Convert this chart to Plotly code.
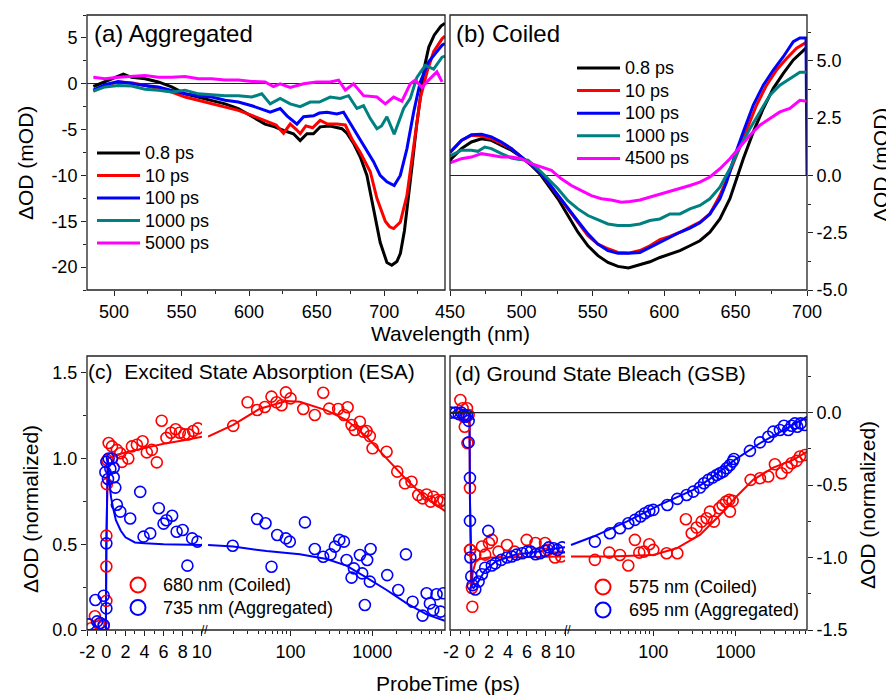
import plotly.graph_objects as go

W0, H0 = 894, 695      # browser window
OFF = 8                # default page body margin
W, H = W0 - OFF, H0 - OFF
FONT = "Arial, Liberation Sans, sans-serif"

# ---------------- (a) Aggregated: transient spectra ----------------
a_labels = ["0.8 ps", "10 ps", "100 ps", "1000 ps", "5000 ps"]
a_colors = ["#000000", "#ff0000", "#0000ff", "#008080", "#ff00ff"]

a_wl_black = [484.7, 489.6, 493.3, 500.7, 506.9, 513, 523, 532.8, 542.7, 552.6, 562.5, 572.3, 582.2, 592, 602,
              611.8, 619, 625.5, 632.8, 637.8, 642.8, 647.6, 652.6, 660, 668.7, 672.4, 677.3, 682.3, 687.2, 692.1,
              697, 702, 705.6, 709.4, 712, 715, 718, 721, 724, 727, 730, 733, 737, 742, 745]
a_black = [-0.3, 0.0, 0.2, 0.7, 1.05, 0.7, 0.55, 0.2, -0.35, -1.1, -1.45, -1.8, -2.2, -2.7, -3.6,
           -4.4, -4.7, -5.1, -5.45, -6.2, -5.45, -5.45, -4.7, -4.6, -4.9, -5.4, -6.5, -8.0, -10.0, -13.5,
           -17.3, -19.5, -19.8, -19.4, -18.5, -16.0, -12.5, -8.5, -4.5, -1.0, 2.0, 4.0, 5.3, 6.3, 6.6]

a_wl_red = [484.7, 493.3, 503.2, 513, 523, 532.8, 542.7, 552.6, 562.5, 572.3, 582.2, 592, 602, 611.8, 615.6,
            620, 625.5, 630.4, 635, 637.8, 642, 647, 652.6, 658, 665, 671.2, 676, 682.3, 689.7, 694.6,
            700.8, 704, 707, 711.9, 716.8, 721.8, 726.7, 731.7, 736.6, 742.8, 745]
a_red = [-0.8, -0.2, 0.2, 0.1, -0.2, -0.55, -0.9, -1.45, -1.8, -2.2, -2.5, -2.9, -3.45, -4.0, -4.2,
         -4.5, -5.4, -4.4, -5.0, -5.45, -4.6, -4.8, -4.0, -4.4, -4.4, -4.5, -6.0, -7.5, -9.6, -12.5,
         -15.0, -15.6, -15.8, -15.1, -12.2, -7.1, -1.6, 1.3, 3.5, 4.9, 5.2]

a_wl_blue = [484.7, 493.3, 503, 513, 523, 532.8, 542.7, 552.6, 562.5, 572.3, 582.2, 592, 602, 611.8, 615.6,
             623, 628, 635.4, 640.3, 647.7, 652, 657.6, 665, 669.9, 677.3, 684.7, 692.1, 697, 702, 707.4,
             711.9, 716.8, 721.8, 726.7, 732.9, 739, 742.8, 745]
a_blue = [-0.7, -0.1, 0.25, 0.0, -0.2, -0.35, -0.7, -1.1, -1.3, -1.45, -1.8, -2.0, -2.4, -2.9, -3.1,
          -2.7, -3.5, -4.4, -3.6, -3.5, -3.2, -3.1, -3.3, -3.1, -4.9, -6.7, -8.5, -10.0, -10.7, -11.1,
          -10.0, -7.1, -3.1, 0.2, 2.4, 3.5, 4.2, 4.4]

a_wl_teal = [484.7, 493.3, 503.2, 513, 523, 532.8, 542.7, 552.6, 562.5, 572.3, 582.2, 592, 602, 609.4, 615.6,
             623, 630.4, 637.8, 645.2, 652, 660, 667.5, 673.6, 679.8, 684.7, 689.7, 694.6, 698, 702, 707.4,
             714.4, 719.3, 724.2, 730.4, 736.6, 742.8, 745]
a_teal = [-0.8, -0.35, -0.2, -0.25, -0.6, -0.7, -0.9, -0.7, -1.1, -1.2, -1.3, -1.3, -1.45, -1.1, -2.2,
          -1.6, -2.2, -2.5, -2.0, -2.0, -1.45, -1.6, -1.3, -2.7, -2.4, -3.8, -4.9, -4.6, -3.6, -5.5,
          -2.7, -1.6, 0.7, 2.0, 1.6, 2.9, 3.0]

a_wl_mag = [484.7, 493.3, 503.2, 513, 523, 532.8, 542.7, 552.6, 562.5, 572.3, 582.2, 592, 602, 611.8, 618,
            623, 630.4, 640.3, 650, 660, 666.2, 671.2, 677.3, 684.7, 694.6, 700.8, 707, 713.1, 719.3, 723,
            727.9, 732.9, 739, 742.8]
a_mag = [0.7, 0.55, 0.7, 0.8, 0.9, 0.7, 0.7, 0.8, 0.55, 0.55, 0.4, 0.4, 0.25, 0.2, -0.3,
         0.0, -0.4, 0.0, 0.2, 0.2, 0.4, -0.7, 0.0, -1.3, -1.45, -2.2, -1.45, -1.9, 0.0, 0.4,
         -0.4, 0.4, 1.3, 0.2]

# ---------------- (b) Coiled: transient spectra ----------------
b_labels = ["0.8 ps", "10 ps", "100 ps", "1000 ps", "4500 ps"]
b_colors = ["#000000", "#ff0000", "#0000ff", "#008080", "#ff00ff"]

b_wl_black = [450, 451, 458, 465, 472, 479, 486, 493, 500, 507, 513, 518.6, 525.6, 532.6, 539.6, 546.6, 553.6,
              560.6, 567.6, 575, 583, 590, 597, 604, 611, 618, 625, 632, 639, 646, 650.7, 655.4, 662.4,
              669.4, 676.4, 683.4, 690.4, 698.5, 700]
b_black = [0.6, 0.73, 1.17, 1.46, 1.6, 1.53, 1.31, 1.1, 0.8, 0.44, 0.07, -0.44, -1.02, -1.75, -2.48, -3.07, -3.5,
           -3.8, -3.97, -4.04, -3.9, -3.77, -3.58, -3.43, -3.28, -3.07, -2.85, -2.48, -1.9, -1.02, -0.15, 0.73, 1.9,
           2.92, 3.8, 4.45, 5.04, 5.55, 5.6]

b_wl_red = [450, 458, 465, 472, 479, 486, 493, 500, 507, 513, 518.6, 525.6, 532.6, 539.6, 546.6, 553.6, 560.6,
            567.6, 575, 583, 590, 597, 604, 611, 618, 625, 632, 639, 646, 650.7, 657.7, 664.7, 671.7, 678.7,
            685.7, 692.7, 698.5, 700]
b_red = [1.0, 1.53, 1.75, 1.72, 1.6, 1.39, 1.17, 0.8, 0.44, 0.15, -0.29, -0.88, -1.46, -2.04, -2.63, -3.0, -3.2,
         -3.36, -3.39, -3.28, -3.07, -2.8, -2.66, -2.48, -2.26, -2.04, -1.68, -0.88, 0.15, 0.88, 2.04, 3.07, 3.94, 4.6,
         5.1, 5.55, 5.77, 5.8]

b_wl_blue = [450, 458, 465, 472, 479, 486, 493, 500, 507, 513, 518.6, 525.6, 532.6, 539.6, 546.6, 553.6, 560.6,
             567.6, 575, 583, 590, 597, 604, 611, 618, 625, 632, 639, 643.7, 649.5, 655.4, 662.4, 669.4, 676.4,
             683.4, 690.4, 695, 699.3, 700]
b_blue = [1.0, 1.53, 1.78, 1.8, 1.68, 1.46, 1.17, 0.8, 0.44, 0.15, -0.29, -0.88, -1.43, -2.0, -2.55, -3.0, -3.28,
          -3.4, -3.4, -3.36, -3.14, -2.89, -2.7, -2.48, -2.3, -2.07, -1.68, -1.02, -0.29, 0.88, 1.9, 3.07, 3.94, 4.6,
          5.18, 5.84, 6.0, 6.0, 0.0]

b_wl_teal = [450, 458, 465, 469.6, 474.3, 479, 486, 493, 497.6, 504.6, 511.6, 518.6, 525.6, 532.6, 539.6, 546.6,
             553.6, 560.6, 567.6, 576, 583, 590, 597, 604, 611, 618, 625, 632, 639, 646, 653, 660, 667, 674,
             681, 688, 695, 700]
b_teal = [0.85, 1.1, 1.1, 1.05, 1.24, 1.17, 0.95, 0.76, 0.7, 0.66, 0.29, -0.15, -0.58, -1.1, -1.46, -1.75,
          -1.93, -2.12, -2.19, -2.19, -2.12, -1.97, -1.9, -1.68, -1.68, -1.46, -1.31, -1.02, -0.51, 0.29, 1.24, 2.04,
          2.77, 3.5, 3.94, 4.23, 4.5, 4.5]

b_wl_mag = [450, 458, 465, 472, 479, 486, 493, 500, 507, 514, 521, 528, 535, 542, 549, 556, 563, 570, 576, 583,
            590, 597, 604, 611, 618, 625, 632, 639, 646, 653, 660, 667, 674, 681, 688, 695, 700]
b_mag = [0.55, 0.73, 0.8, 0.95, 0.88, 0.8, 0.8, 0.73, 0.51, 0.37, 0.22, -0.15, -0.44, -0.66, -0.88, -1.02, -1.07,
         -1.17, -1.14, -1.07, -0.95, -0.8, -0.7, -0.58, -0.44, -0.29, -0.07, 0.29, 0.73, 1.24, 1.75, 2.19, 2.48,
         2.77, 2.92, 3.28, 3.24]

# ---------------- (c) ESA kinetics ----------------
c_labels = ["680 nm (Coiled)", "735 nm (Aggregated)"]

c_red_t_lin = [-1.6, -1.2, -0.8, -0.3, 0.0, 0.0, 0.0, 0.05, 0.1, 0.24, 0.59, 1.1, 1.46, 1.64, 2.3, 2.68, 3.2, 3.8,
               4.24, 4.77, 5.29, 5.8, 6.3, 6.78, 7.27, 7.7, 8.18, 8.6, 9.1, 9.6]
c_red_v_lin = [0.01, 0.08, 0.035, 0.02, 0.17, 0.37, 0.55, 0.85, 0.99, 1.09, 1.07, 1.05, 1.03, 0.98, 1.0, 1.07, 1.08,
               1.1, 1.035, 1.05, 0.977, 1.22, 1.12, 1.15, 1.17, 1.15, 1.14, 1.14, 1.16, 1.175]
c_red_t_log = [19.9, 29.8, 39, 48.5, 58.5, 67.4, 77.6, 87.7, 100, 143, 198, 251, 297, 383, 450, 499, 558, 613, 706,
               776, 851, 934, 1008, 1497, 2021, 2513, 3023, 3654, 4130, 4625, 5176, 5576, 6240, 6730, 7395]
c_red_v_log = [1.19, 1.327, 1.282, 1.30, 1.36, 1.327, 1.31, 1.385, 1.35, 1.288, 1.253, 1.383, 1.29, 1.288, 1.253,
               1.298, 1.195, 1.166, 1.214, 1.156, 1.16, 1.13, 1.059, 1.039, 0.923, 0.855, 0.864, 0.787, 0.767, 0.79,
               0.748, 0.777, 0.758, 0.748, 0.758]
c_red_fit_t_lin = [-2.03, -0.05, 0.0, 0.15, 1, 2, 4, 6, 8, 10.03]
c_red_fit_v_lin = [0, 0, 0.5, 1.0, 1.02, 1.035, 1.06, 1.085, 1.105, 1.127]
c_red_fit_t_log = [9.8, 19.9, 42.1, 89, 130, 276, 483, 851, 1497, 2640, 4625, 7940]
c_red_fit_v_log = [1.127, 1.195, 1.29, 1.334, 1.33, 1.28, 1.224, 1.127, 1.0, 0.874, 0.767, 0.69]

c_blue_t_lin = [-1.84, -1.15, -0.97, -0.63, -0.28, -0.28, 0.0, 0.0, -0.1, 0.0, 0.24, 0.59, 0.42, 0.17, 0.77, 0.94,
                0.77, 1.1, 1.46, 2.5, 3.55, 3.9, 4.6, 5.5, 6.0, 6.3, 6.9, 7.37, 8.0, 8.5, 9.0, 9.55]
c_blue_v_lin = [0.033, 0.175, 0.05, 0.04, 0.2, 0.03, 0.126, 0.505, 0.92, 0.98, 1.0, 1.0, 0.94, 0.88, 0.89, 0.83,
                0.946, 0.73, 0.69, 0.65, 0.805, 0.544, 0.563, 0.71, 0.62, 0.64, 0.666, 0.573, 0.583, 0.375, 0.534, 0.515]
c_blue_t_log = [19.6, 39, 49.4, 58.5, 68.7, 87.7, 98, 150, 198, 251, 309, 349, 395, 450, 485, 558, 596, 706, 753,
                812, 867, 934, 954, 1524, 2080, 2582, 3117, 4130, 4625, 5070, 5576, 6120, 6855, 7395]
c_blue_v_log = [0.491, 0.647, 0.622, 0.369, 0.554, 0.534, 0.515, 0.627, 0.472, 0.427, 0.441, 0.486, 0.525, 0.515,
                0.408, 0.305, 0.359, 0.437, 0.33, 0.146, 0.408, 0.282, 0.472, 0.32, 0.233, 0.441, 0.165, 0.084,
                0.214, 0.155, 0.117, 0.208, 0.107, 0.214]
c_blue_fit_t_lin = [-2.03, -0.05, 0.0, 0.15, 0.3, 0.5, 0.75, 1.0, 1.5, 2, 3, 4, 6, 8, 10.03]
c_blue_fit_v_lin = [0, 0, 0.5, 1.0, 0.86, 0.77, 0.7, 0.64, 0.58, 0.54, 0.51, 0.505, 0.5, 0.497, 0.495]
c_blue_fit_t_log = [9.8, 19.9, 50.8, 130, 276, 483, 851, 1497, 2640, 4625, 7700]
c_blue_fit_v_log = [0.495, 0.486, 0.46, 0.441, 0.414, 0.375, 0.305, 0.233, 0.155, 0.091, 0.054]

# ---------------- (d) GSB kinetics ----------------
d_labels = ["575 nm (Coiled)", "695 nm (Aggregated)"]

d_red_t_lin = [-1.01, -0.77, -0.31, -0.66, -0.14, -0.55, -0.27, 0.0, 0.0, 0.04, 0.21, 0.25, 0.56, 1.26, 1.6, 2.0,
               2.3, 3.0, 3.9, 4.7, 5.97, 6.9, 7.9, 8.2, 8.94, 9.6]
d_red_v_lin = [0.087, 0.03, 0.03, -0.028, -0.016, -0.097, -0.21, -0.52, -0.947, -0.947, -1.21, -1.34, -0.98,
               -0.924, -0.98, -0.9, -0.878, -0.959, -0.913, -0.959, -0.878, -0.90, -0.90, -0.947, -1.0, -0.993]
d_red_t_log = [19.5, 29.2, 39.3, 49.7, 59.8, 67.6, 77.1, 89.4, 100, 145, 196, 249, 293, 336, 387, 445, 489, 546,
               634, 695, 764, 838, 921, 855, 1524, 1978, 2495, 3006, 3622, 4245, 4790, 5510, 6050, 6970]
d_red_v_log = [-1.016, -0.966, -0.982, -1.055, -0.878, -0.966, -0.959, -0.908, -0.947, -0.97, -0.97, -0.736,
               -0.832, -0.793, -0.752, -0.729, -0.683, -0.752, -0.66, -0.637, -0.614, -0.602, -0.609, -0.683,
               -0.464, -0.453, -0.441, -0.356, -0.418, -0.379, -0.349, -0.333, -0.303, -0.292]
d_red_fit_t_lin = [-2.1, -0.05, 0.0, 0.12, 0.3, 0.6, 1.0, 2.0, 4, 6, 8, 10]
d_red_fit_v_lin = [0, 0, -0.6, -1.22, -1.1, -1.03, -1.01, -1.0, -1.0, -1.0, -0.995, -0.993]
d_red_fit_t_log = [10, 29.8, 100, 192, 369, 645, 1027, 1635, 2870, 5010, 7430]
d_red_fit_v_log = [-0.993, -0.993, -0.982, -0.936, -0.844, -0.706, -0.579, -0.464, -0.379, -0.326, -0.269]

d_blue_t_lin = [-2.0, -1.53, -1.18, -0.9, -0.66, -0.48, -0.31, -0.14, -0.14, 0.0, 0.0, 0.04, 0.14, 0.28, 0.56,
                0.91, 1.26, 1.93, 1.6, 2.3, 2.67, 3.3, 3.9, 4.4, 4.9, 5.5, 6.0, 6.4, 6.9, 7.37, 7.9, 8.3, 8.8, 9.2, 9.7]
d_blue_v_lin = [0, 0, -0.01, 0, -0.016, -0.028, -0.02, -0.057, -0.205, -0.45, -0.747, -1.0, -1.13, -1.19, -1.22,
                -1.165, -1.115, -0.816, -1.07, -1.055, -1.04, -1.016, -1.0, -0.993, -0.98, -0.97, -0.959, -0.959,
                -0.977, -0.97, -0.954, -0.93, -0.936, -0.947, -0.93]
d_blue_t_log = [19.5, 29.7, 39.3, 49.7, 59.8, 70.1, 79.2, 89.4, 100, 148, 196, 254, 306, 369, 413, 466, 526, 589,
                646, 709, 778, 855, 921, 955, 1495, 1978, 2495, 2871, 3459, 3869, 4367, 4790, 5260, 5620, 6170, 6970]
d_blue_v_log = [-0.89, -0.832, -0.798, -0.763, -0.74, -0.717, -0.694, -0.678, -0.671, -0.637, -0.595, -0.568,
                -0.545, -0.517, -0.487, -0.464, -0.448, -0.43, -0.418, -0.407, -0.384, -0.361, -0.338, -0.32,
                -0.264, -0.205, -0.166, -0.131, -0.12, -0.09, -0.12, -0.09, -0.074, -0.097, -0.074, -0.085]
d_blue_fit_t_lin = [-2.1, -0.05, 0.0, 0.2, 0.38, 0.9, 1.6, 2.7, 4.75, 7.2, 9.6, 10]
d_blue_fit_v_lin = [0, 0, -0.6, -1.2, -1.21, -1.165, -1.085, -1.028, -0.98, -0.959, -0.931, -0.928]
d_blue_fit_t_log = [10, 18.7, 47.4, 120, 306, 489, 937, 1978, 4170, 7430]
d_blue_fit_v_log = [-0.913, -0.855, -0.752, -0.637, -0.533, -0.457, -0.333, -0.211, -0.108, -0.028]

# ---------------- tick labels ----------------
a_yticks = [-20, -15, -10, -5, 0, 5]
b_yticks = [-5, -2.5, 0, 2.5, 5]
c_yticks = [0, 0.5, 1.0, 1.5]
d_yticks = [-1.5, -1.0, -0.5, 0.0]
lin_xticks = [-2, 0, 2, 4, 6, 8, 10]
log_xticks = [100, 1000]
log_minor = [20, 30, 40, 50, 60, 70, 80, 90, 200, 300, 400, 500, 600, 700, 800, 900,
             2000, 3000, 4000, 5000, 6000, 7000]

RED, BLUE = "#ff0000", "#0000ff"
INK = "#222222"


def X(p):
    """window pixel -> paper fraction"""
    return (p - OFF) / W


def Y(p):
    return 1 - (p - OFF) / H


def fmt(v, dec):
    return f"{v:.{dec}f}"


fig = go.Figure()

# (a)
for xs, ys, c, n in zip([a_wl_black, a_wl_red, a_wl_blue, a_wl_teal, a_wl_mag],
                        [a_black, a_red, a_blue, a_teal, a_mag], a_colors, a_labels):
    fig.add_trace(go.Scatter(x=xs, y=ys, mode="lines", line=dict(color=c, width=3),
                             name=n, showlegend=False, xaxis="x", yaxis="y"))
# (b)
for xs, ys, c, n in zip([b_wl_black, b_wl_red, b_wl_blue, b_wl_teal, b_wl_mag],
                        [b_black, b_red, b_blue, b_teal, b_mag], b_colors, b_labels):
    fig.add_trace(go.Scatter(x=xs, y=ys, mode="lines", line=dict(color=c, width=3),
                             name=n, showlegend=False, xaxis="x2", yaxis="y2"))


def kin(xs, ys, color, xa, ya, fit=False):
    if fit:
        fig.add_trace(go.Scatter(x=xs, y=ys, mode="lines", line=dict(color=color, width=2),
                                 showlegend=False, xaxis=xa, yaxis=ya))
    else:
        fig.add_trace(go.Scatter(x=xs, y=ys, mode="markers",
                                 marker=dict(symbol="circle-open", size=11, color=color,
                                             line=dict(width=1.6, color=color)),
                                 showlegend=False, xaxis=xa, yaxis=ya))


# (c)
kin(c_red_fit_t_lin, c_red_fit_v_lin, RED, "x3", "y3", True)
kin(c_red_fit_t_log, c_red_fit_v_log, RED, "x4", "y3", True)
kin(c_blue_fit_t_lin, c_blue_fit_v_lin, BLUE, "x3", "y3", True)
kin(c_blue_fit_t_log, c_blue_fit_v_log, BLUE, "x4", "y3", True)
kin(c_red_t_lin, c_red_v_lin, RED, "x3", "y3")
kin(c_red_t_log, c_red_v_log, RED, "x4", "y3")
kin(c_blue_t_lin, c_blue_v_lin, BLUE, "x3", "y3")
kin(c_blue_t_log, c_blue_v_log, BLUE, "x4", "y3")
# (d)
kin(d_red_fit_t_lin, d_red_fit_v_lin, RED, "x5", "y4", True)
kin(d_red_fit_t_log, d_red_fit_v_log, RED, "x6", "y4", True)
kin(d_blue_fit_t_lin, d_blue_fit_v_lin, BLUE, "x5", "y4", True)
kin(d_blue_fit_t_log, d_blue_fit_v_log, BLUE, "x6", "y4", True)
kin(d_red_t_lin, d_red_v_lin, RED, "x5", "y4")
kin(d_red_t_log, d_red_v_log, RED, "x6", "y4")
kin(d_blue_t_lin, d_blue_v_lin, BLUE, "x5", "y4")
kin(d_blue_t_log, d_blue_v_log, BLUE, "x6", "y4")

TF = dict(family=FONT, size=18, color="black")


def axis(**kw):
    base = dict(showgrid=False, zeroline=False, showline=False, ticks="outside", ticklen=5,
                tickwidth=1.2, tickcolor=INK, tickfont=TF, tickangle=0, automargin=False)
    base.update(kw)
    return base


def minor(dt, t0=0):
    return dict(tickmode="linear", tick0=t0, dtick=dt, ticks="outside", ticklen=3,
                tickwidth=1.1, tickcolor=INK, showgrid=False)


dom_top = [Y(290), Y(15)]
dom_bot = [Y(630), Y(356)]

fig.update_layout(
    width=W, height=H, margin=dict(l=0, r=0, t=0, b=0),
    paper_bgcolor="white", plot_bgcolor="white", showlegend=False,
    font=dict(family=FONT, color="black"),
    xaxis=axis(domain=[X(87), X(445)], range=[480, 745], anchor="y", tickmode="linear", tick0=500,
               dtick=50, minor=minor(25, 500)),
    yaxis=axis(domain=dom_top, range=[-22.5, 7.5], anchor="x", tickmode="array", tickvals=a_yticks,
               ticktext=[fmt(v, 0) for v in a_yticks], minor=minor(2.5),
               zeroline=True, zerolinecolor=INK, zerolinewidth=1.2),
    xaxis2=axis(domain=[X(450), X(807)], range=[450, 700], anchor="y2", tickmode="linear", tick0=450,
                dtick=50, minor=minor(25, 450)),
    yaxis2=axis(domain=dom_top, range=[-5, 7], anchor="x2", side="right", tickmode="array",
                tickvals=b_yticks, ticktext=[fmt(v, 1) for v in b_yticks], minor=minor(1.25),
                zeroline=True, zerolinecolor=INK, zerolinewidth=1.2),
    xaxis3=axis(domain=[X(87), X(202)], range=[-2.03, 10.03], anchor="y3", tickmode="array",
                tickvals=lin_xticks, ticktext=[fmt(v, 0) for v in lin_xticks], minor=minor(1)),
    xaxis4=axis(domain=[X(208), X(445)], type="log", range=[0.99, 3.89], anchor="y3", tickmode="array",
                tickvals=log_xticks, ticktext=[str(v) for v in log_xticks],
                minor=dict(tickmode="array", tickvals=log_minor, ticks="outside", ticklen=3,
                           tickwidth=1.1, tickcolor=INK, showgrid=False)),
    yaxis3=axis(domain=dom_bot, range=[0, 1.597], anchor="x3", tickmode="array", tickvals=c_yticks,
                ticktext=[fmt(v, 1) for v in c_yticks], minor=minor(0.25)),
    xaxis5=axis(domain=[X(450), X(565)], range=[-2.1, 10.0], anchor="y4", tickmode="array",
                tickvals=lin_xticks, ticktext=[fmt(v, 0) for v in lin_xticks], minor=minor(1)),
    xaxis6=axis(domain=[X(570), X(807)], type="log", range=[0.988, 3.868], anchor="y4", tickmode="array",
                tickvals=log_xticks, ticktext=[str(v) for v in log_xticks],
                minor=dict(tickmode="array", tickvals=log_minor, ticks="outside", ticklen=3,
                           tickwidth=1.1, tickcolor=INK, showgrid=False)),
    yaxis4=axis(domain=dom_bot, range=[-1.5, 0.391], anchor="x6", side="right", tickmode="array",
                tickvals=d_yticks, ticktext=[fmt(v, 1) for v in d_yticks], minor=minor(0.25)),
)

shapes = []
# panel frames
for (x0, x1, y0, y1) in [(87, 445, 15, 290), (450, 807, 15, 290), (87, 445, 356, 630), (450, 807, 356, 630)]:
    shapes.append(dict(type="rect", xref="paper", yref="paper", x0=X(x0), x1=X(x1), y0=Y(y1), y1=Y(y0),
                       line=dict(color=INK, width=1.3), fillcolor="rgba(0,0,0,0)", layer="above"))
# zero line across broken panel (d)
shapes.append(dict(type="line", xref="paper", yref="y4", x0=X(450), x1=X(807), y0=0, y1=0,
                   line=dict(color=INK, width=1.2)))

annotations = []


def text(s, x, y, size, xanchor="left", yanchor="middle", angle=0):
    annotations.append(dict(text=s, x=X(x), y=Y(y), xref="paper", yref="paper", showarrow=False,
                            xanchor=xanchor, yanchor=yanchor, textangle=angle,
                            font=dict(family=FONT, size=size, color="black")))


# legends (a) and (b)
for i, (lab, col) in enumerate(zip(a_labels, a_colors)):
    yy = 153 + i * 22.5
    shapes.append(dict(type="line", xref="paper", yref="paper", x0=X(97), x1=X(140), y0=Y(yy), y1=Y(yy),
                       line=dict(color=col, width=3)))
    text(lab, 143, yy, 18)
for i, (lab, col) in enumerate(zip(b_labels, b_colors)):
    yy = 68 + i * 22.6
    shapes.append(dict(type="line", xref="paper", yref="paper", x0=X(577), x1=X(620), y0=Y(yy), y1=Y(yy),
                       line=dict(color=col, width=3)))
    text(lab, 623, yy, 18)
# legends (c) and (d)
for labs, cx, tx, ys in [(c_labels, 138, 161, [585, 607.5]), (d_labels, 603, 627, [587, 610])]:
    for lab, col, yy in zip(labs, [RED, BLUE], ys):
        r = 7.5
        shapes.append(dict(type="circle", xref="paper", yref="paper", x0=X(cx - r), x1=X(cx + r),
                           y0=Y(yy + r), y1=Y(yy - r), line=dict(color=col, width=2)))
        text(lab, tx, yy, 18)

# panel titles
text("(a) Aggregated", 92, 33, 24)
text("(b) Coiled", 454, 33, 24)
text("(c)\u00a0\u00a0Excited State Absorption (ESA)", 86, 371, 21)
text("(d) Ground State Bleach (GSB)", 453, 373, 21)

# axis titles
text("\u0394OD (mOD)", 25, 163, 21, xanchor="center", angle=-90)
text("\u0394OD (mOD)", 880, 165, 21, xanchor="center", angle=-90)
text("Wavelength (nm)", 450, 333, 21, xanchor="center")
text("\u0394OD (normalized)", 30, 509, 21, xanchor="center", angle=-90)
text("\u0394OD (normalized)", 867, 505, 21, xanchor="center", angle=-90)
text("ProbeTime (ps)", 448, 683, 21, xanchor="center")

# axis break marks
text("//", 204, 630, 12, xanchor="center")
text("//", 567.5, 630, 12, xanchor="center")

fig.update_layout(shapes=shapes, annotations=annotations)
fig.write_html("out.html")
